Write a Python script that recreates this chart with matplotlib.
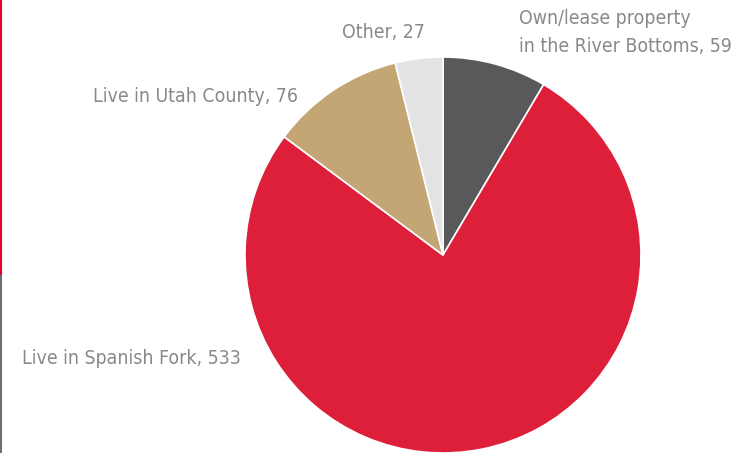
import matplotlib
matplotlib.use("Agg")
import matplotlib.pyplot as plt
from matplotlib import font_manager as fm

categories = ["Own/lease property\nin the River Bottoms", "Live in Spanish Fork", "Live in Utah County", "Other"]
values = [59, 533, 76, 27]
colors = ["#58595b", "#de1f3a", "#c4a574", "#e2e3e5"]

# prefer an upright, regular-weight condensed face if one is installed
cond = [f for f in fm.fontManager.ttflist
        if ("condensed" in str(f.stretch).lower() or "narrow" in f.name.lower() or "Condensed" in f.fname)
        and f.style == "normal" and f.weight in (400, "normal", "regular")
        and "italic" not in f.fname.lower() and "oblique" not in f.fname.lower()]
fprops = dict(family="DejaVu Sans")
if cond:
    fprops = dict(fname=cond[0].fname)
fp = fm.FontProperties(**fprops)

W, H = 751, 453
fig = plt.figure(figsize=(W / 100, H / 100), dpi=100)
ax = fig.add_axes([0, 0, 1, 1])

cx, cy, r = 443, H - 255, 198
ax.pie(values, colors=colors, startangle=90, counterclock=False, center=(cx, cy), radius=r,
       wedgeprops=dict(edgecolor="white", linewidth=1.2), frame=True)
ax.set_xlim(0, W)
ax.set_ylim(0, H)
ax.set_aspect("equal")
ax.axis("off")

tc = "#88898c"
labels = [f"{c}, {v}" for c, v in zip(categories, values)]

# size font so "Live in Spanish Fork, 533" spans ~218 px
renderer = fig.canvas.get_renderer()
probe = ax.text(0, 0, labels[1], fontproperties=fp, fontsize=10)
w10 = probe.get_window_extent(renderer).width
probe.remove()
fs = min(16.0, 10 * 218 / w10)
fp.set_size(fs)

ax.text(519, H - 32, labels[0], ha="left", va="center", color=tc, fontproperties=fp, linespacing=1.6)
ax.text(22, H - 358, labels[1], ha="left", va="center", color=tc, fontproperties=fp)
ax.text(298, H - 97, labels[2], ha="right", va="center", color=tc, fontproperties=fp)
ax.text(383, H - 32, labels[3], ha="center", va="center", color=tc, fontproperties=fp)

fig.add_artist(plt.Line2D([0.7 / W, 0.7 / W], [1, 1 - 276 / H], transform=fig.transFigure, color="#e4002b", lw=1.5))
fig.add_artist(plt.Line2D([0.7 / W, 0.7 / W], [1 - 276 / H, 0], transform=fig.transFigure, color="#6d6e71", lw=1.5))

fig.savefig("out.png", dpi=100, facecolor="white")
